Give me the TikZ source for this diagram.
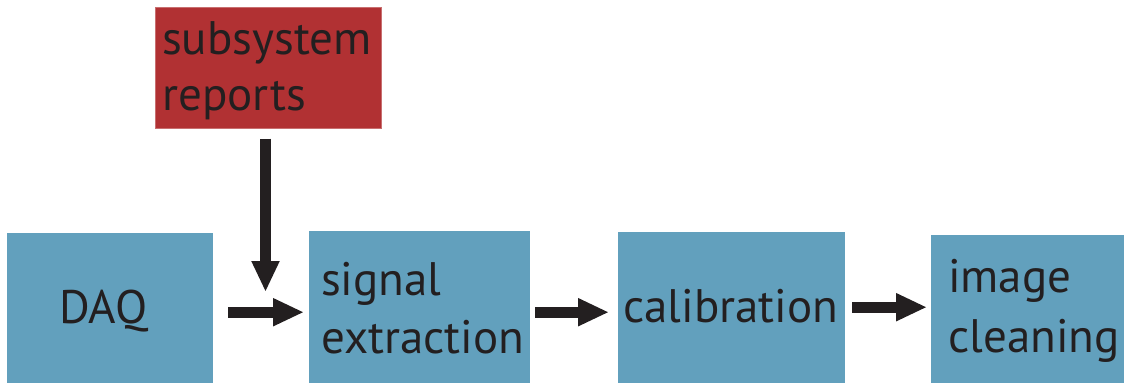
\documentclass[tikz,border=0pt]{standalone}
\usepackage{fontspec}
\setmainfont{PT Sans}
\usetikzlibrary{arrows.meta,calc}
\definecolor{stagefill}{HTML}{62A0BD}
\definecolor{reportfill}{HTML}{B13133}
\definecolor{ink}{HTML}{231F20}
\tikzset{
  stagebox/.style={fill=stagefill, draw=none, inner sep=0pt, anchor=north west},
  reportbox/.style={fill=reportfill, draw=reportfill!70!white, line width=0.6pt, inner sep=0pt, anchor=north west},
  lbl/.style={text=ink, inner sep=0pt, anchor=base west, font=\fontsize{47}{56}\selectfont},
  flow/.style={draw=ink, line width=11pt, -{Triangle[length=31pt,width=26pt]}}
}
\begin{document}
\begin{tikzpicture}[x=1pt,y=-1pt]
  \useasboundingbox (0,0) rectangle (1124,383);
  % boxes
  \node[reportbox, minimum width=226pt, minimum height=121pt] (rep) at (155,7) {};
  \node[stagebox, minimum width=206pt, minimum height=150pt] (daq) at (7,233) {};
  \node[stagebox, minimum width=221pt, minimum height=152pt] (sig) at (309,231) {};
  \node[stagebox, minimum width=227pt, minimum height=151pt] (cal) at (618,232) {};
  \node[stagebox, minimum width=193pt, minimum height=148pt] (img) at (931,235) {};
  % labels
  \node[lbl] (repA) at (162,54) {subsystem};
  \node[lbl] (repB) at (162,110) {reports};
  \node[lbl] (daqA) at (59,323) {DAQ};
  \node[lbl] (sigA) at (321,295) {signal};
  \node[lbl] (sigB) at (321,353) {extraction};
  \node[lbl] (calA) at (623,322) {calibration};
  \node[lbl] (imgA) at (948,292) {image};
  \node[lbl] (imgB) at (948,352) {cleaning};
  % connectors
  \coordinate (merge) at (265.5,292);
  \draw[flow] ($(rep.south west)+(110.5,10)$) -- (merge);
  \draw[flow] ($(daq.east)+(15,4)$) -- ($(sig.west)+(-5,5)$);
  \draw[flow] ($(sig.east)+(5,5)$) -- ($(cal.west)+(-9,4.5)$);
  \draw[flow] ($(cal.east)+(7,-0.5)$) -- ($(img.west)+(-4,-2)$);
\end{tikzpicture}
\end{document}
